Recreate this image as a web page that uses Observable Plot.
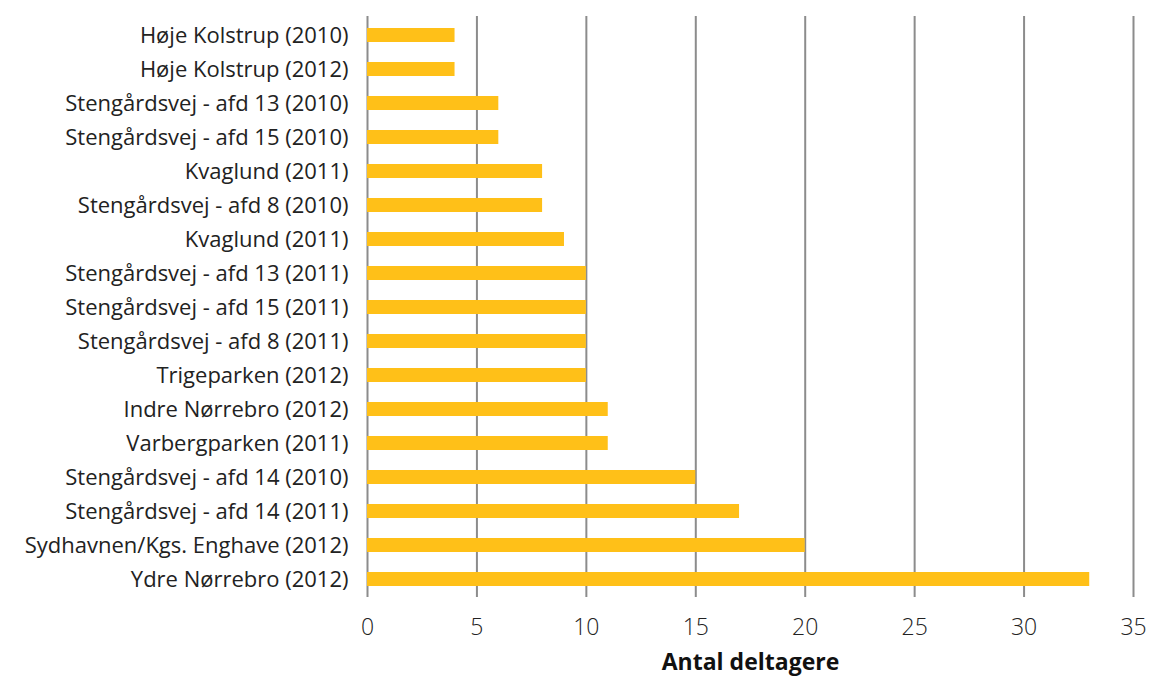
<!DOCTYPE html>
<html>
<head>
<meta charset="utf-8">
<script src="https://cdn.jsdelivr.net/npm/d3@7"></script>
<script src="https://cdn.jsdelivr.net/npm/@observablehq/plot@0.6"></script>
<style>
  html, body { margin: 0; padding: 0; background: #fff; }
  #chart svg { display: block; }
</style>
</head>
<body>
<div id="chart"></div>
<script>
const categories = [
  "Høje Kolstrup (2010)",
  "Høje Kolstrup (2012)",
  "Stengårdsvej - afd 13 (2010)",
  "Stengårdsvej - afd 15 (2010)",
  "Kvaglund (2011)",
  "Stengårdsvej - afd 8 (2010)",
  "Kvaglund (2011)",
  "Stengårdsvej - afd 13 (2011)",
  "Stengårdsvej - afd 15 (2011)",
  "Stengårdsvej - afd 8 (2011)",
  "Trigeparken (2012)",
  "Indre Nørrebro (2012)",
  "Varbergparken (2011)",
  "Stengårdsvej - afd 14 (2010)",
  "Stengårdsvej - afd 14 (2011)",
  "Sydhavnen/Kgs. Enghave (2012)",
  "Ydre Nørrebro (2012)"
];
const values = [4, 4, 6, 6, 8, 8, 9, 10, 10, 10, 10, 11, 11, 15, 17, 20, 33];
const xTicks = [0, 5, 10, 15, 20, 25, 30, 35];
const xLabel = "Antal deltagere";

const data = categories.map((c, i) => ({key: String(i), label: c, value: values[i]}));

const chart = Plot.plot({
  width: 1150,
  height: 676,
  marginLeft: 367,
  marginRight: 17,
  marginTop: 16,
  marginBottom: 79,
  style: {fontFamily: "'Open Sans', sans-serif", fontSize: "20px", color: "#222", background: "#fff"},
  x: {domain: [0, 35], ticks: xTicks, label: null},
  y: {domain: data.map(d => d.key), padding: 0, label: null},
  marks: [
    Plot.ruleX(xTicks.filter(t => t > 0), {stroke: "#8c8c8c", strokeWidth: 2, strokeOpacity: 1}),
    Plot.ruleX([0], {stroke: "#8c8c8c", strokeWidth: 2}),
    Plot.barX(data, {y: "key", x: "value", fill: "#FFC018", insetTop: 10, insetBottom: 10}),
    Plot.axisX({ticks: xTicks, tickSize: 0, tickPadding: 21, fontSize: 23, fontWeight: 300, fill: "#222", label: null}),
    Plot.axisY({tickSize: 0, tickPadding: 19, tickFormat: k => categories[+k], fontSize: 22, fontWeight: 400, fill: "#222", label: null}),
    Plot.text([xLabel], {frameAnchor: "bottom", dy: 72, fontSize: 23, fontWeight: "bold", fill: "#111"})
  ]
});
document.getElementById("chart").appendChild(chart);
</script>
</body>
</html>
